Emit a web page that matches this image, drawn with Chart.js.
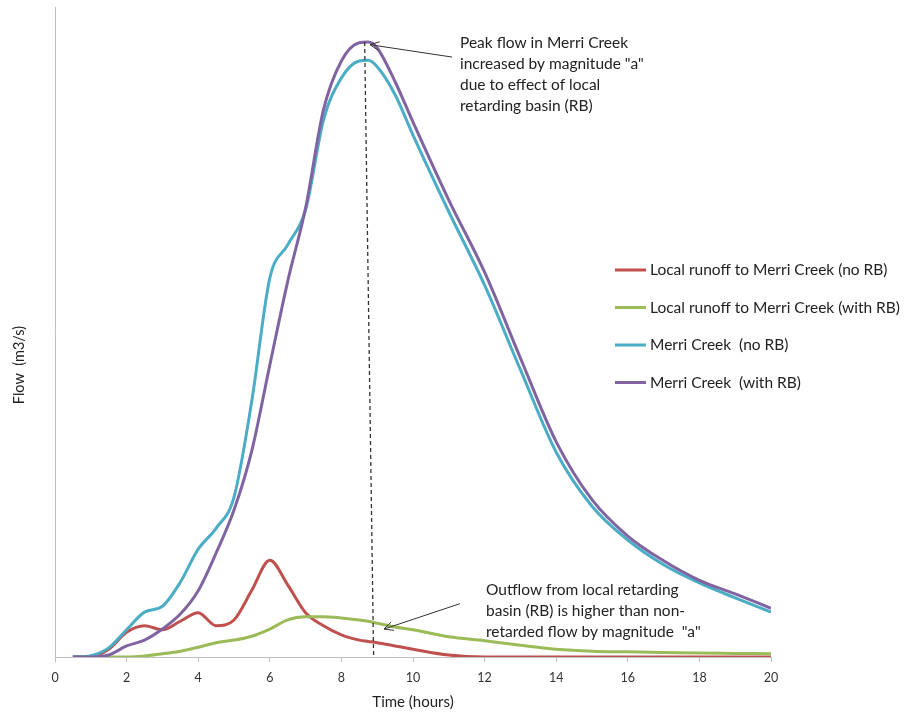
<!DOCTYPE html>
<html>
<head>
<meta charset="utf-8">
<script src="https://cdn.jsdelivr.net/npm/chart.js@4.4.0/dist/chart.umd.min.js"></script>
<style>
  html, body { margin: 0; padding: 0; background: #fff; }
  #grafico { display: block; }
</style>
</head>
<body>
<canvas id="grafico" width="905" height="712"></canvas>
<script>
// horas
const tempo = [0.5, 1, 1.5, 2, 2.5, 3, 3.5, 4, 4.5, 5, 5.5, 6, 6.5, 7, 7.5, 8, 8.5, 8.75, 9, 9.5, 10, 11, 12, 13, 14, 15, 16, 17, 18, 19, 20];

// vazões (escala relativa, eixo sem valores)
const localSemRB = [0, 0, 1.2, 3.8, 4.8, 4.2, 5.5, 6.8, 4.8, 5.7, 10.3, 14.9, 11.1, 6.8, 4.8, 3.4, 2.6, 2.4, 2.2, 1.7, 1.2, 0.3, 0, 0, 0, 0, 0, 0, 0, 0, 0];
const localComRB = [0, 0, 0, 0, 0.15, 0.5, 0.9, 1.5, 2.2, 2.6, 3.2, 4.3, 5.7, 6.2, 6.2, 6.0, 5.7, 5.5, 5.2, 4.6, 4.2, 3.1, 2.5, 1.8, 1.2, 0.9, 0.8, 0.7, 0.6, 0.55, 0.5];
const merriSemRB = [0, 0.2, 1.4, 4.2, 6.9, 7.8, 11.5, 16.6, 19.8, 24.6, 39.5, 58.3, 63.4, 68.8, 82.6, 89.1, 91.7, 91.8, 90.8, 86.5, 80.3, 68.5, 57.2, 44.2, 31.5, 23.2, 18.0, 14.2, 11.4, 9.1, 6.9];
const merriComRB = [0, 0, 0.3, 1.7, 2.6, 4.3, 6.6, 10.2, 16.0, 22.6, 31.8, 44.9, 57.8, 69.1, 84.2, 91.7, 94.5, 94.6, 93.7, 88.5, 82.3, 70.3, 59.2, 46.0, 33.1, 24.2, 18.6, 14.8, 11.8, 9.7, 7.5];

const nomes = [
  "Local runoff to Merri Creek (no RB)",
  "Local runoff to Merri Creek (with RB)",
  "Merri Creek  (no RB)",
  "Merri Creek  (with RB)"
];
const cores = ["#C0504D", "#9BBB59", "#4BACC6", "#8064A2"];

const notaPico = ["Peak flow in Merri Creek", "increased by magnitude \"a\"", "due to effect of local", "retarding basin (RB)"];
const notaBacia = ["Outflow from local retarding", "basin (RB) is higher than non-", "retarded flow by magnitude  \"a\""];

const FONTE = "Lato, 'Open Sans', sans-serif";

function pontos(valores) {
  return tempo.map((t, i) => ({ x: t, y: valores[i] }));
}

function seta(ctx, x1, y1, x2, y2) {
  ctx.beginPath();
  ctx.moveTo(x1, y1);
  ctx.lineTo(x2, y2);
  const ang = Math.atan2(y2 - y1, x2 - x1);
  const tam = 10;
  ctx.moveTo(x2, y2);
  ctx.lineTo(x2 - tam * Math.cos(ang - 0.45), y2 - tam * Math.sin(ang - 0.45));
  ctx.moveTo(x2, y2);
  ctx.lineTo(x2 - tam * Math.cos(ang + 0.45), y2 - tam * Math.sin(ang + 0.45));
  ctx.stroke();
}

const extras = {
  id: "extras",
  afterDatasetsDraw(chart) {
    const ctx = chart.ctx;
    const x = chart.scales.x;
    const y = chart.scales.y;

    ctx.save();

    // linha tracejada do pico
    ctx.strokeStyle = "#333";
    ctx.lineWidth = 1.3;
    ctx.setLineDash([4, 3]);
    ctx.beginPath();
    ctx.moveTo(x.getPixelForValue(8.65), y.getPixelForValue(94.6));
    ctx.lineTo(x.getPixelForValue(8.9), y.getPixelForValue(0));
    ctx.stroke();
    ctx.setLineDash([]);

    // setas
    ctx.strokeStyle = "#333";
    ctx.lineWidth = 1;
    seta(ctx, x.getPixelForValue(11.09), y.getPixelForValue(92.3), x.getPixelForValue(8.8), y.getPixelForValue(94.2));
    seta(ctx, x.getPixelForValue(11.31), y.getPixelForValue(8.2), x.getPixelForValue(9.19), y.getPixelForValue(4.3));

    // textos
    ctx.fillStyle = "#222";
    ctx.font = "15.5px " + FONTE;
    ctx.textBaseline = "middle";
    ctx.textAlign = "left";
    notaPico.forEach((linha, i) => ctx.fillText(linha, 460, 43 + i * 21));
    notaBacia.forEach((linha, i) => ctx.fillText(linha, 486, 590 + i * 21));

    // legenda
    ctx.font = "15.5px " + FONTE;
    nomes.forEach((nome, i) => {
      const ly = 270 + i * 37.5;
      ctx.strokeStyle = cores[i];
      ctx.lineWidth = 3;
      ctx.beginPath();
      ctx.moveTo(615, ly);
      ctx.lineTo(646, ly);
      ctx.stroke();
      ctx.fillStyle = "#222";
      ctx.fillText(nome, 650, ly);
    });

    // título do eixo y
    ctx.translate(19, 365);
    ctx.rotate(-Math.PI / 2);
    ctx.textAlign = "center";
    ctx.font = "14.5px " + FONTE;
    ctx.fillText("Flow  (m3/s)", 0, 0);

    ctx.restore();
  }
};

const grafico = new Chart(document.getElementById("grafico"), {
  type: "line",
  data: {
    datasets: [localSemRB, localComRB, merriSemRB, merriComRB].map((serie, i) => ({
      label: nomes[i],
      data: pontos(serie),
      borderColor: cores[i],
      borderWidth: 3,
      pointRadius: 0,
      cubicInterpolationMode: "monotone",
      order: 4 - i
    }))
  },
  options: {
    responsive: false,
    animation: false,
    layout: { padding: { left: 0, right: 134, top: 7, bottom: 0 } },
    plugins: {
      legend: { display: false },
      tooltip: { enabled: false }
    },
    scales: {
      x: {
        type: "linear",
        min: 0,
        max: 20,
        ticks: {
          stepSize: 2,
          color: "#333",
          padding: 8,
          font: { family: FONTE, size: 12.5 }
        },
        grid: {
          drawOnChartArea: false,
          drawTicks: true,
          tickLength: 5,
          color: "#BFBFBF"
        },
        border: { color: "#BFBFBF", width: 1 },
        title: {
          display: true,
          text: "Time (hours)",
          color: "#222",
          font: { family: FONTE, size: 15 },
          padding: { top: 0, bottom: 1 }
        },
        afterFit(scale) { scale.height = 55; }
      },
      y: {
        min: 0,
        max: 100,
        ticks: { display: false },
        grid: { display: false },
        border: { color: "#BFBFBF", width: 1 },
        afterFit(scale) { scale.width = 55; }
      }
    }
  },
  plugins: [extras]
});
</script>
</body>
</html>
